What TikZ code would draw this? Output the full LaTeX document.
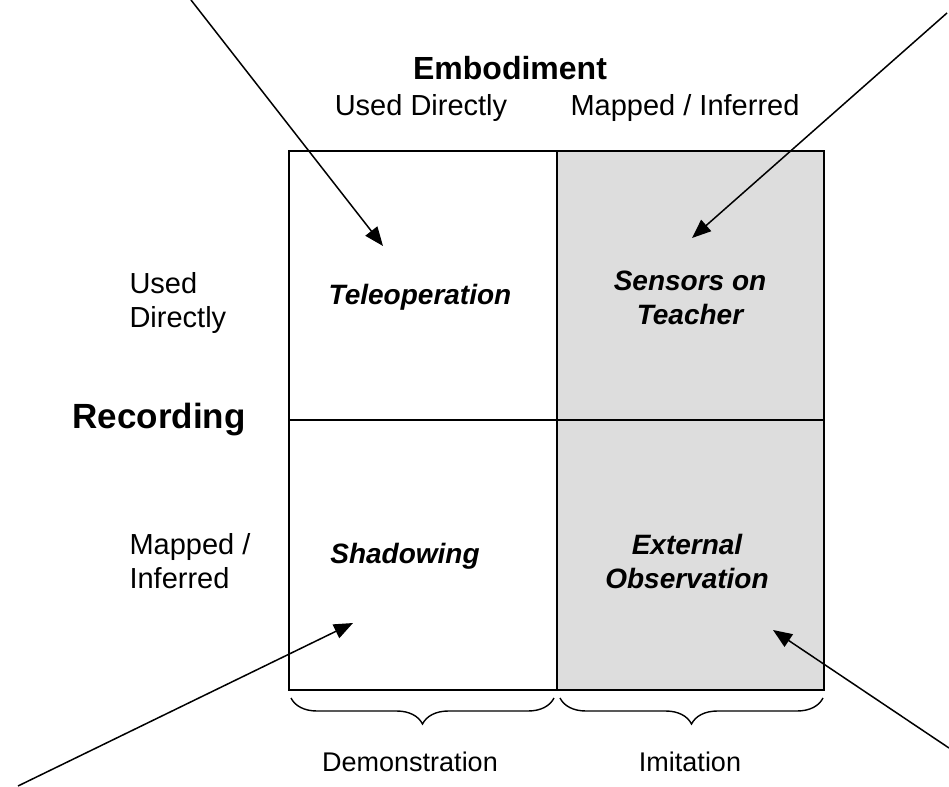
\documentclass[tikz,border=0pt]{standalone}
\usepackage{fontspec}
\setmainfont{Liberation Sans}
\usetikzlibrary{arrows.meta,decorations.pathreplacing}
\definecolor{cellgray}{RGB}{221,221,221}
\begin{document}
\begin{tikzpicture}[x=1pt, y=-1pt,
    grid/.style={line width=1.8pt,black},
    pointer/.style={line width=1.5pt,black,-{Triangle[length=19pt,width=15pt]}},
    axis/.style={black,font=\fontsize{29}{34}\selectfont},
    title/.style={black,font=\fontsize{32}{36}\selectfont\bfseries},
    cell/.style={black,align=center,font=\fontsize{28}{34}\selectfont\bfseries\itshape}]

  % Fix the page to the size of the reference.
  \useasboundingbox (0,0) rectangle (949,786);

  % Shaded column on the right.
  \fill[cellgray] (557,151) rectangle (824,690);

  % The grid.
  \draw[grid] (289,151) rectangle (824,690);
  \draw[grid] (557,151) -- (557,690);
  \draw[grid] (289,420) -- (824,420);

  % Text above the grid
  \node[title] (embodiment) at (510,68) {Embodiment};
  \node[axis] (embdirect) at (421,108) {Used Directly};
  \node[axis] (embmapped) at (685,108) {Mapped / Inferred};

  % Text left of the grid
  \node[title,font=\fontsize{35}{40}\selectfont\bfseries] (recording) at (159,420) {Recording};
  \node[axis,align=left,anchor=west] (recdirect) at (126,303) {Used\\Directly};
  \node[axis,align=left,anchor=west] (recmapped) at (126,561) {Mapped /\\Inferred};

  % Text in the cells
  \node[cell] (teleop) at (420,297) {Teleoperation};
  \node[cell] (sensors) at (690,298) {Sensors on\\Teacher};
  \node[cell] (shadow) at (405,556) {Shadowing};
  \node[cell] (external) at (687,561) {External\\Observation};

  % Braces under the grid
  \draw[line width=1.4pt,decorate,decoration={brace,mirror,amplitude=26pt}]
    (291,698) -- (554,698);
  \draw[line width=1.4pt,decorate,decoration={brace,mirror,amplitude=26pt}]
    (560,698) -- (823,698);
  \node[axis,font=\fontsize{27}{32}\selectfont] (demo) at (410,762) {Demonstration};
  \node[axis,font=\fontsize{27}{32}\selectfont] (imit) at (690,762) {Imitation};

  % Pointers coming in from the corners
  \coordinate (tlstart) at (191,0);
  \coordinate (tltip) at (383,246);
  \coordinate (trstart) at (947,13);
  \coordinate (trtip) at (692,238);
  \coordinate (blstart) at (18,786);
  \coordinate (bltip) at (353,623);
  \coordinate (brstart) at (949,748);
  \coordinate (brtip) at (773,630);

  \draw[pointer] (tlstart) -- (tltip);
  \draw[pointer] (trstart) -- (trtip);
  \draw[pointer] (blstart) -- (bltip);
  \draw[pointer] (brstart) -- (brtip);

\end{tikzpicture}
\end{document}
